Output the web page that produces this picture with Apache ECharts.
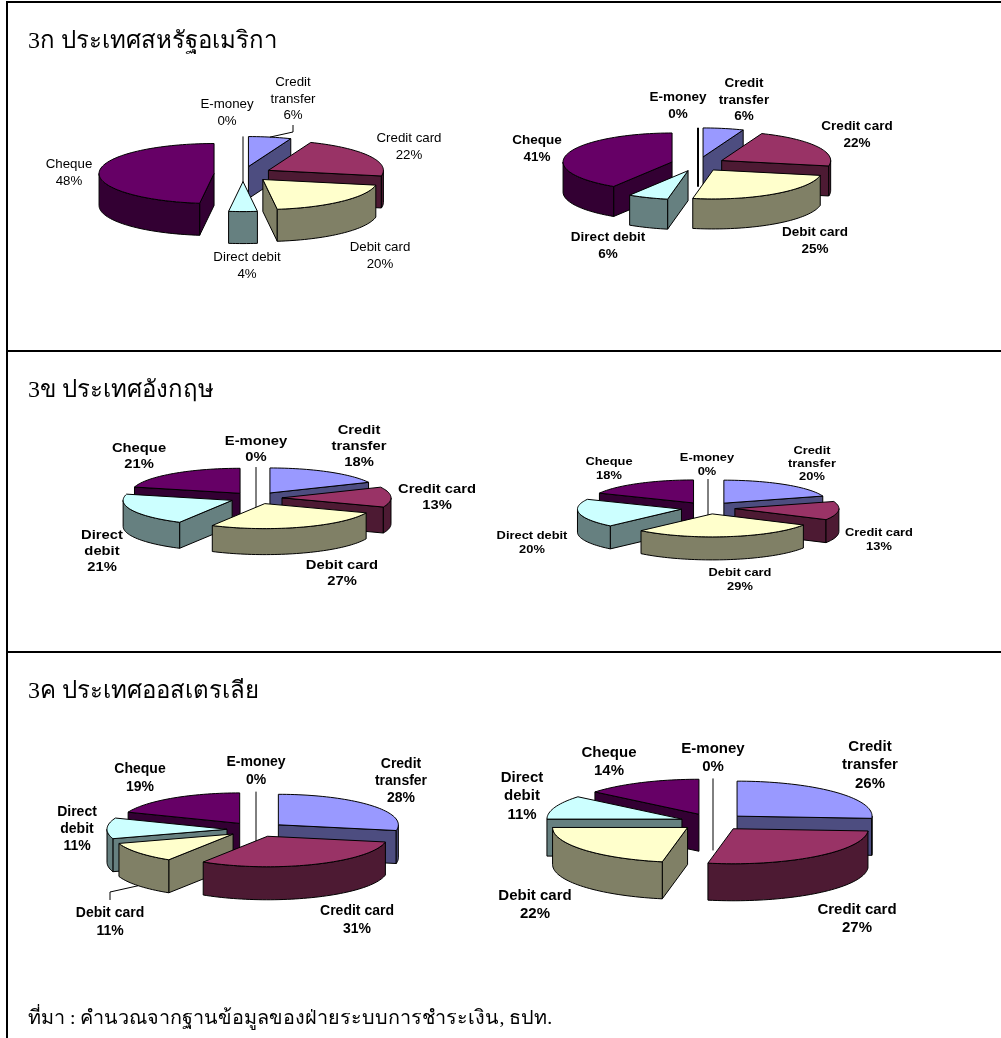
<!DOCTYPE html>
<html>
<head>
<meta charset="utf-8">
<style>html,body{margin:0;padding:0;background:#fff}#chart{width:1001px;height:1038px}</style>
<script src="https://cdn.jsdelivr.net/npm/echarts@6/dist/echarts.min.js"></script>
</head>
<body>
<div id="chart"></div>
<script>
// Payment instrument shares, clockwise from twelve o'clock
const categories = ['Credit transfer', 'Credit card', 'Debit card', 'Direct debit', 'Cheque', 'E-money'];
const usaFirst = [6, 22, 20, 4, 48, 0];
const usaSecond = [6, 22, 25, 6, 41, 0];
const ukFirst = [18, 13, 27, 21, 21, 0];
const ukSecond = [20, 13, 29, 20, 18, 0];
const ausFirst = [28, 31, 11, 11, 19, 0];
const ausSecond = [26, 27, 22, 11, 14, 0];

const topColors = ['#9999FF', '#993366', '#FFFFCC', '#CCFFFF', '#660066', '#FF8080'];
const wallColors = ['#4D4D80', '#4D1A33', '#808066', '#668080', '#330033', '#804040'];

const headings = ['3ก ประเทศสหรัฐอเมริกา', '3ข ประเทศอังกฤษ', '3ค ประเทศออสเตรเลีย'];
const sourceNote = 'ที่มา : คำนวณจากฐานข้อมูลของฝ่ายระบบการชำระเงิน, ธปท.';

// Geometry and label placement of each exploded pie
const pies = [
  { values: usaFirst, cx: 243, cy: 174, rx: 115, ry: 30, depth: 32, explode: 29,
    font: { size: 13.3, weight: 'normal', stretch: 1, line: 16.5 },
    wrap: { 'Credit transfer': 'Credit\ntransfer' },
    labels: [[293, 99], [409, 147], [380, 256], [247, 266], [69, 173], [227, 113]],
    leaders: { 0: [[293, 132], [293, 125]] } },
  { values: usaSecond, cx: 698, cy: 164, rx: 109, ry: 29, depth: 30, explode: 27, edge: 2,
    font: { size: 13.5, weight: 'bold', stretch: 1, line: 16.7 },
    wrap: { 'Credit transfer': 'Credit\ntransfer' },
    labels: [[744, 100], [857, 135], [815, 241], [608, 246], [537, 149], [678, 106]] },
  { values: ukFirst, cx: 256, cy: 498, rx: 109, ry: 25, depth: 26, explode: 26,
    font: { size: 13, weight: 'bold', stretch: 1.137, line: 16 },
    wrap: { 'Credit transfer': 'Credit\ntransfer', 'Direct debit': 'Direct\ndebit' },
    labels: [[359, 446], [437, 497], [342, 573], [102, 551], [139, 456], [256, 449]] },
  { values: ukSecond, cx: 708, cy: 508, rx: 104, ry: 23, depth: 23, explode: 27,
    font: { size: 11, weight: 'bold', stretch: 1.17, line: 13.3 },
    wrap: { 'Credit transfer': 'Credit\ntransfer' },
    labels: [[812, 464], [879, 540], [740, 580], [532, 543], [609, 469], [707, 465]] },
  { values: ausFirst, cx: 256, cy: 829.5, rx: 120, ry: 30.5, depth: 33, explode: 29,
    font: { size: 14, weight: 'bold', stretch: 1, line: 17.3 },
    wrap: { 'Credit transfer': 'Credit\ntransfer', 'Direct debit': 'Direct\ndebit' },
    labels: [[401, 781], [357, 920], [110, 922], [77, 829], [140, 778], [256, 771]],
    leaders: { 2: [[110, 892], [110, 900]] } },
  { values: ausSecond, cx: 713, cy: 822, rx: 135, ry: 35, depth: 37, explode: 33,
    font: { size: 15, weight: 'bold', stretch: 1, line: 18.5 },
    wrap: { 'Credit transfer': 'Credit\ntransfer', 'Direct debit': 'Direct\ndebit' },
    labels: [[870, 765], [857, 919], [535, 905], [522, 796], [609, 762], [713, 758]] }
];

const RAD = Math.PI / 180;

// Spans in degrees for every slice, accumulated from the percentages
function sliceSpans(values) {
  const total = values.reduce((a, b) => a + b, 0);
  let run = 0;
  return values.map(v => {
    const start = run / total * 360;
    run += v;
    return { start, end: run / total * 360, mid: (start + run / total * 360) / 2 };
  });
}

function buildSeries(pie) {
  const spans = sliceSpans(pie.values);
  // Painter's order: slices pulled towards the back come first
  const order = pie.values.map((v, i) => i)
    .sort((a, b) => Math.cos(spans[b].mid * RAD) - Math.cos(spans[a].mid * RAD));
  const edge = { stroke: '#000', lineWidth: 1, lineJoin: 'round' };

  return {
    type: 'custom',
    coordinateSystem: 'none',
    silent: true,
    clip: false,
    data: order.map(i => ({ value: [pie.values[i], i] })),
    renderItem: function (params, api) {
      const value = api.value(0);
      const idx = api.value(1);
      const span = spans[idx];
      const ax = pie.cx + pie.explode * Math.sin(span.mid * RAD);
      const ay = pie.cy - pie.explode * (pie.ry / pie.rx) * Math.cos(span.mid * RAD);
      const rim = t => [ax + pie.rx * Math.sin(t * RAD), ay - pie.ry * Math.cos(t * RAD)];
      const drop = p => [p[0], p[1] + pie.depth];
      const arc = (a, b) => {
        const pts = [];
        const steps = Math.max(1, Math.ceil((b - a) / 2));
        for (let k = 0; k <= steps; k++) pts.push(rim(a + (b - a) * k / steps));
        return pts;
      };
      const children = [];
      const polygon = (points, fill) => children.push({
        type: 'polygon', shape: { points }, style: Object.assign({ fill }, edge)
      });
      const radialWall = t => {
        const r = rim(t), c = [ax, ay];
        polygon([c, r, drop(r), drop(c)], wallColors[idx]);
      };

      if (value === 0) {
        // An empty slice only shows up as its cut edge
        children.push({
          type: 'polyline',
          shape: { points: [rim(span.start), drop([ax, ay])] },
          style: { stroke: '#000', lineWidth: pie.edge || 1, fill: null }
        });
      } else {
        if (Math.sin(span.start * RAD) < 0) radialWall(span.start);
        if (Math.sin(span.end * RAD) > 0) radialWall(span.end);
        const a = Math.max(span.start, 90), b = Math.min(span.end, 270);
        if (b > a) {
          const front = arc(a, b);
          polygon(front.concat(front.map(drop).reverse()), wallColors[idx]);
        }
        polygon([[ax, ay]].concat(arc(span.start, span.end)), topColors[idx]);
      }

      const name = categories[idx];
      const at = pie.labels[idx];
      children.push({
        type: 'text',
        x: at[0], y: at[1], scaleX: pie.font.stretch,
        z2: 100,
        style: {
          text: (pie.wrap[name] || name) + '\n' + value + '%',
          fontFamily: '"Liberation Sans", Arial, sans-serif',
          fontSize: pie.font.size,
          fontWeight: pie.font.weight,
          lineHeight: pie.font.line,
          fill: '#000',
          textAlign: 'center',
          textVerticalAlign: 'middle'
        }
      });

      const leader = pie.leaders && pie.leaders[idx];
      if (leader) {
        const anchor = rim(span.mid);
        const from = Math.cos(span.mid * RAD) < 0 ? drop(anchor) : anchor;
        children.push({
          type: 'polyline',
          shape: { points: [from].concat(leader) },
          style: { stroke: '#000', lineWidth: 1, fill: null }
        });
      }
      return { type: 'group', children };
    }
  };
}

const serifStyle = {
  fontFamily: '"Liberation Serif", "Times New Roman", serif',
  fontWeight: 'normal',
  fontSize: 24,
  color: '#000'
};
const frameLine = (x1, y1, x2, y2) => ({
  type: 'line',
  shape: { x1, y1, x2, y2 },
  style: { stroke: '#000', lineWidth: 2 },
  silent: true
});

const chart = echarts.init(document.getElementById('chart'), null, { width: 1001, height: 1038 });
chart.setOption({
  animation: false,
  backgroundColor: '#fff',
  title: [
    { text: headings[0], left: 23, top: 25, textStyle: serifStyle },
    { text: headings[1], left: 23, top: 374, textStyle: serifStyle },
    { text: headings[2], left: 23, top: 675, textStyle: serifStyle },
    { text: sourceNote, left: 23, top: 1004, textStyle: Object.assign({}, serifStyle, { fontSize: 19.8 }) }
  ],
  graphic: [
    frameLine(7, 2, 1001, 2),
    frameLine(7, 1, 7, 1038),
    frameLine(7, 351, 1001, 351),
    frameLine(7, 652, 1001, 652)
  ],
  series: pies.map(buildSeries)
});
</script>
</body>
</html>
